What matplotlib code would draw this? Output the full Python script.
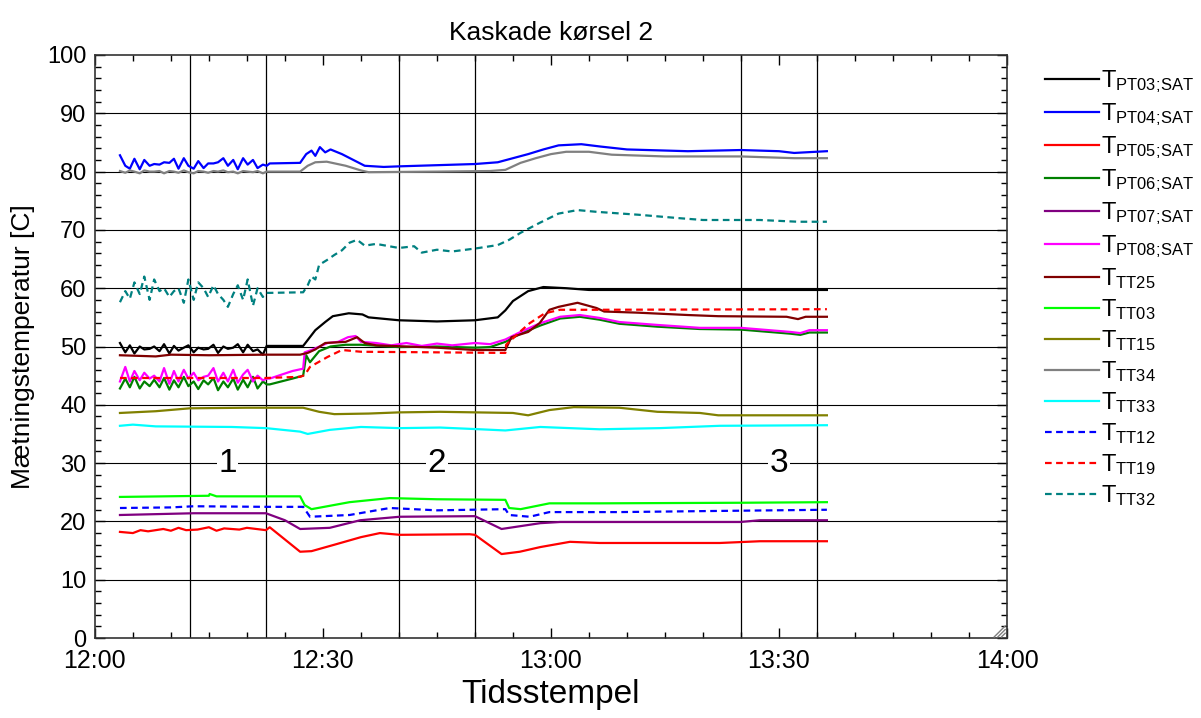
import pandas as pd
import matplotlib
matplotlib.use('Agg')
import matplotlib.pyplot as plt
import matplotlib.dates as mdates
from matplotlib.ticker import MultipleLocator

plt.rcParams['font.family'] = ['Liberation Sans', 'DejaVu Sans']
plt.rcParams['mathtext.fontset'] = 'custom'
plt.rcParams['mathtext.rm'] = 'Liberation Sans'
plt.rcParams['mathtext.it'] = 'Liberation Sans'

# minutes after 12:00 for the noisy first period
t_early = [3.3, 4.0, 4.6, 5.2, 5.9, 6.5, 7.2, 7.8, 8.5, 9.1, 9.8, 10.4, 11.0, 11.7, 12.3, 13.0,
           13.6, 14.3, 14.9, 15.6, 16.2, 16.9, 17.5, 18.2, 18.8, 19.5, 20.1, 20.8, 21.4, 22.1, 22.6]

pt04_early = [82.8, 81.0, 80.5, 82.2, 80.4, 82.0, 81.0, 81.3, 81.2, 81.6, 81.5, 82.2, 80.5, 82.3, 81.0, 80.5,
              81.8, 80.6, 81.4, 81.4, 81.6, 82.3, 81.0, 82.0, 80.4, 82.3, 81.2, 82.0, 80.6, 81.2, 81.0]
pt04_t = [23.0, 27.0, 27.8, 28.5, 29.0, 29.6, 30.3, 31.0, 32.5, 34.0, 35.5, 38.0, 40.0, 45.0, 50.0, 53.0,
          55.0, 57.0, 59.0, 61.0, 64.0, 66.5, 70.0, 78.0, 85.0, 90.0, 92.0, 96.3]
pt04_v = [81.4, 81.5, 83.0, 83.6, 82.7, 84.2, 83.3, 83.8, 83.0, 82.0, 81.0, 80.8, 80.9, 81.1, 81.3, 81.6,
          82.3, 83.0, 83.8, 84.5, 84.7, 84.3, 83.8, 83.5, 83.7, 83.5, 83.2, 83.5]

tt34_early = [80.1, 79.8, 80.2, 80.0, 79.7, 80.2, 80.0, 80.0, 80.1, 79.7, 80.1, 80.0, 79.8, 80.2, 79.9, 79.7,
              80.1, 80.0, 79.8, 80.1, 80.0, 80.2, 79.9, 80.0, 79.7, 80.1, 80.0, 79.9, 80.1, 79.7, 80.0]
tt34_t = [23.0, 27.0, 28.0, 29.0, 30.5, 33.0, 35.0, 36.0, 45.0, 52.0, 54.0, 56.0, 58.0, 60.0, 62.0, 65.0,
          68.0, 75.0, 85.0, 92.0, 96.3]
tt34_v = [80.0, 80.0, 81.0, 81.6, 81.7, 81.0, 80.2, 79.9, 80.0, 80.1, 80.3, 81.5, 82.3, 83.0, 83.4, 83.4,
          82.9, 82.6, 82.6, 82.3, 82.3]

tt32_early = [57.6, 59.5, 58.2, 61.0, 59.0, 62.0, 58.0, 61.5, 59.5, 60.0, 58.5, 59.5, 60.0, 57.5, 61.5, 58.0,
              61.0, 60.0, 58.5, 60.5, 59.0, 58.0, 56.8, 59.0, 60.5, 58.0, 61.5, 57.0, 60.0, 58.5, 59.2]
tt32_t = [23.0, 27.4, 28.0, 28.5, 29.0, 29.5, 30.5, 31.5, 32.5, 33.5, 34.5, 35.5, 37.0, 40.0, 42.0, 43.0,
          45.0, 47.0, 50.0, 53.0, 54.5, 56.0, 58.5, 61.0, 63.5, 66.0, 71.5, 77.0, 80.0, 87.5, 92.5, 96.3]
tt32_v = [59.2, 59.3, 60.5, 62.0, 61.5, 64.0, 64.8, 65.7, 66.5, 67.8, 68.3, 67.3, 67.6, 66.9, 67.2, 66.1,
          66.6, 66.3, 66.8, 67.4, 68.3, 69.5, 71.2, 72.8, 73.4, 73.1, 72.6, 72.0, 71.7, 71.7, 71.4, 71.4]

pt03_early = [50.6, 49.0, 50.2, 48.8, 50.0, 49.5, 49.6, 50.0, 49.2, 50.4, 48.8, 50.1, 49.3, 49.8, 50.2, 49.0,
              49.8, 49.5, 49.6, 50.3, 48.9, 50.0, 49.6, 49.8, 50.4, 49.0, 50.3, 49.2, 49.5, 48.6, 50.1]
pt03_t = [23.0, 27.4, 29.0, 30.3, 31.3, 33.4, 35.2, 36.0, 40.0, 45.0, 50.0, 53.0, 54.0, 55.0, 57.0, 59.0,
          62.0, 65.0, 96.3]
pt03_v = [50.1, 50.1, 52.8, 54.2, 55.2, 55.7, 55.5, 55.0, 54.5, 54.3, 54.5, 55.0, 56.2, 57.8, 59.5, 60.2,
          60.0, 59.7, 59.7]

pt08_early = [44.0, 46.5, 44.0, 45.8, 44.2, 45.5, 44.5, 45.0, 44.0, 46.3, 43.6, 45.8, 44.0, 46.0, 44.5, 45.5,
              44.2, 44.8, 45.0, 46.3, 44.0, 45.5, 44.0, 46.0, 43.8, 45.2, 46.0, 44.0, 45.0, 44.2, 44.5]
pt08_t = [23.0, 26.0, 27.4, 27.6, 28.5, 30.6, 32.0, 33.3, 34.3, 35.0, 37.0, 39.0, 41.0, 43.0, 45.0, 47.0,
          50.0, 52.0, 54.0, 56.0, 58.6, 61.2, 63.8, 66.4, 69.0, 74.0, 79.6, 85.0, 91.5, 92.8, 94.0, 96.3]
pt08_v = [44.5, 45.8, 46.2, 49.0, 49.4, 50.6, 50.8, 51.6, 51.8, 50.8, 50.6, 50.2, 50.6, 50.1, 50.5, 50.2,
          50.6, 50.4, 51.2, 52.5, 54.0, 55.1, 55.4, 54.9, 54.2, 53.7, 53.2, 53.2, 52.5, 52.3, 52.8, 52.8]

pt06_early = [42.8, 44.5, 43.0, 44.8, 42.8, 44.0, 43.2, 44.3, 43.0, 44.6, 42.6, 44.2, 43.0, 44.8, 43.2, 44.0,
              42.7, 44.2, 43.5, 44.6, 42.5, 44.0, 43.0, 44.5, 42.6, 44.3, 43.0, 44.8, 42.8, 44.0, 43.5]
pt06_t = [23.0, 26.0, 27.4, 27.8, 28.3, 29.5, 31.0, 33.0, 35.0, 40.0, 45.0, 50.0, 52.0, 54.0, 56.0, 58.6,
          61.2, 63.8, 66.4, 69.0, 74.0, 79.6, 85.0, 91.5, 92.8, 94.0, 96.3]
pt06_v = [43.5, 44.5, 45.0, 48.5, 47.3, 49.2, 50.0, 50.3, 50.3, 49.9, 50.0, 49.8, 49.9, 50.8, 52.2, 53.6,
          54.8, 55.1, 54.6, 53.9, 53.4, 53.0, 52.9, 52.2, 52.0, 52.4, 52.4]

tt25_t = [3.3, 8.0, 10.0, 15.0, 22.5, 27.0, 28.0, 29.0, 30.3, 33.0, 34.5, 35.5, 37.0, 45.0, 50.0, 54.0,
          54.8, 57.0, 58.5, 59.8, 61.0, 63.5, 66.0, 67.0, 71.5, 78.0, 82.0, 91.0, 92.5, 93.5, 96.3]
tt25_v = [48.5, 48.3, 48.6, 48.5, 48.6, 48.6, 48.9, 49.5, 50.6, 50.8, 51.6, 50.6, 50.2, 49.8, 49.4, 49.4,
          51.6, 52.5, 54.0, 56.3, 56.8, 57.5, 56.6, 56.0, 55.8, 55.4, 55.2, 55.1, 54.7, 55.1, 55.1]

tt19_t = [3.3, 15.0, 22.5, 27.0, 27.6, 28.3, 30.6, 32.5, 35.0, 45.0, 54.0, 54.1, 55.9, 57.2, 59.2, 61.2,
          66.0, 96.3]
tt19_v = [44.6, 44.6, 44.6, 44.8, 45.1, 46.5, 48.2, 49.4, 49.1, 49.0, 48.9, 50.3, 52.5, 54.0, 55.7, 56.3,
          56.3, 56.4]

tt15_t = [3.3, 8.0, 12.5, 20.0, 27.4, 29.5, 31.5, 36.0, 40.0, 45.4, 55.0, 57.0, 59.8, 63.0, 69.0, 74.0,
          79.6, 82.0, 96.3]
tt15_v = [38.6, 38.9, 39.4, 39.5, 39.5, 38.8, 38.4, 38.5, 38.7, 38.8, 38.6, 38.2, 39.1, 39.6, 39.5, 38.8,
          38.6, 38.2, 38.2]

tt33_t = [3.3, 5.0, 8.0, 18.0, 22.5, 27.0, 28.0, 30.9, 35.0, 40.1, 45.4, 50.7, 54.0, 58.6, 66.4, 74.3,
          82.2, 96.3]
tt33_v = [36.4, 36.6, 36.3, 36.2, 36.0, 35.4, 35.0, 35.7, 36.2, 36.0, 36.1, 35.8, 35.6, 36.2, 35.8, 36.0,
          36.4, 36.5]

tt03_t = [3.3, 15.0, 15.1, 16.0, 27.0, 27.6, 28.5, 33.5, 38.8, 45.0, 54.0, 54.5, 56.0, 59.8, 66.4, 85.0, 96.3]
tt03_v = [24.2, 24.4, 24.7, 24.3, 24.3, 22.8, 22.1, 23.3, 24.0, 23.8, 23.7, 22.3, 22.1, 23.1, 23.1, 23.2, 23.3]

tt12_t = [3.3, 10.0, 13.0, 22.5, 27.4, 28.3, 33.5, 38.8, 45.0, 54.0, 54.5, 57.2, 59.8, 69.0, 82.2, 96.3]
tt12_v = [22.3, 22.4, 22.6, 22.5, 22.5, 20.8, 21.1, 22.3, 21.9, 22.1, 21.1, 20.8, 21.6, 21.6, 21.8, 22.0]

pt07_t = [3.3, 13.0, 22.5, 25.0, 27.0, 30.9, 34.9, 40.1, 50.0, 53.5, 58.6, 61.2, 84.9, 87.5, 96.3]
pt07_v = [21.1, 21.4, 21.4, 20.2, 18.7, 18.9, 20.2, 20.8, 20.9, 18.7, 19.7, 19.9, 19.9, 20.2, 20.2]

pt05_t = [3.3, 5.0, 6.0, 7.0, 9.0, 10.0, 11.0, 12.0, 13.5, 15.0, 16.0, 17.0, 19.0, 20.0, 22.5, 23.0,
          27.0, 28.5, 31.5, 35.0, 37.5, 40.1, 49.3, 50.0, 53.5, 55.9, 58.6, 62.5, 66.4, 82.2, 87.5, 96.3]
pt05_v = [18.2, 18.0, 18.5, 18.3, 18.7, 18.4, 18.9, 18.5, 18.6, 19.0, 18.4, 18.8, 18.6, 18.9, 18.5, 19.0,
          14.8, 14.9, 16.0, 17.3, 18.0, 17.7, 17.8, 17.7, 14.4, 14.8, 15.6, 16.5, 16.3, 16.3, 16.6, 16.6]

# period boundaries and labels (minutes after 12:00)
boundaries = [12.5, 22.5, 40, 50, 85, 95]
period_labels = ['1', '2', '3']
period_pos = [17.5, 45, 90]

base = pd.Timestamp('2000-01-01 12:00')


def tm(minutes):
    return base + pd.to_timedelta(pd.Series(minutes), unit='min')


def sub(name):
    # negative space removes the gap mathtext puts after the semicolon
    return r'$\mathrm{T}_{\mathrm{' + name.replace(';', r';\!') + '}}$'


series = [
    ('PT03;SAT', t_early + pt03_t, pt03_early + pt03_v, '#000000', '-'),
    ('PT04;SAT', t_early + pt04_t, pt04_early + pt04_v, '#0000ff', '-'),
    ('PT05;SAT', pt05_t, pt05_v, '#ff0000', '-'),
    ('PT06;SAT', t_early + pt06_t, pt06_early + pt06_v, '#008000', '-'),
    ('PT07;SAT', pt07_t, pt07_v, '#800080', '-'),
    ('PT08;SAT', t_early + pt08_t, pt08_early + pt08_v, '#ff00ff', '-'),
    ('TT25', tt25_t, tt25_v, '#800000', '-'),
    ('TT03', tt03_t, tt03_v, '#00ff00', '-'),
    ('TT15', tt15_t, tt15_v, '#808000', '-'),
    ('TT34', t_early + tt34_t, tt34_early + tt34_v, '#808080', '-'),
    ('TT33', tt33_t, tt33_v, '#00ffff', '-'),
    ('TT12', tt12_t, tt12_v, '#0000ff', '--'),
    ('TT19', tt19_t, tt19_v, '#ff0000', '--'),
    ('TT32', t_early + tt32_t, tt32_early + tt32_v, '#008080', '--'),
]

fig = plt.figure(figsize=(12.01, 7.18), dpi=100)
ax = fig.add_axes([0.079, 0.1114, 0.7595, 0.812])

# horizontal grid
for yv in range(10, 100, 10):
    ax.axhline(yv, color='black', linewidth=0.8, zorder=1)
for b in boundaries:
    ax.axvline(tm([b])[0], color='black', linewidth=0.9, zorder=1)
for lab, p in zip(period_labels, period_pos):
    ax.text(tm([p])[0], 30, lab, fontsize=24, ha='center', va='center', zorder=2,
            bbox=dict(facecolor='white', edgecolor='none', pad=1))

for name, t, v, col, ls in series:
    ax.plot(tm(t), v, color=col, linestyle=ls, linewidth=1.6, label=sub(name), zorder=3,
            dashes=(3, 2) if ls == '--' else (None, None))

ax.set_xlim(tm([0])[0], tm([120])[0])
ax.set_ylim(0, 100)
ax.xaxis.set_major_locator(mdates.MinuteLocator(byminute=[0, 30]))
ax.xaxis.set_minor_locator(mdates.MinuteLocator(byminute=range(0, 60, 5)))
ax.xaxis.set_major_formatter(mdates.DateFormatter('%H:%M'))
ax.yaxis.set_major_locator(MultipleLocator(10))
ax.yaxis.set_minor_locator(MultipleLocator(2))
ax.tick_params(which='both', direction='in', top=True, right=True)
ax.tick_params(which='major', length=7, width=1)
ax.tick_params(which='minor', length=4, width=1)
ax.tick_params(axis='x', labelsize=18, pad=8)
ax.tick_params(axis='y', labelsize=17, pad=6)
for s in ax.spines.values():
    s.set_color('#333333')
    s.set_linewidth(1.2)

# resize grip in the corner
for d in [0.004, 0.008, 0.012]:
    ax.plot([1 - d - 0.002, 0.998], [0.002, d * 1.56 + 0.002], color='gray', lw=1,
            transform=ax.transAxes, zorder=4)

ax.set_title('Kaskade kørsel 2', fontsize=19, pad=11)
ax.set_xlabel('Tidsstempel', fontsize=24, labelpad=4)
ax.set_ylabel('Mætningstemperatur [C]', fontsize=19, labelpad=9)

fig.legend(loc='upper left', bbox_to_anchor=(0.862, 0.918), frameon=False, fontsize=17,
           handlelength=2.3, handletextpad=0.1, labelspacing=0.26, borderaxespad=0)

fig.savefig('out.png', dpi=100)
